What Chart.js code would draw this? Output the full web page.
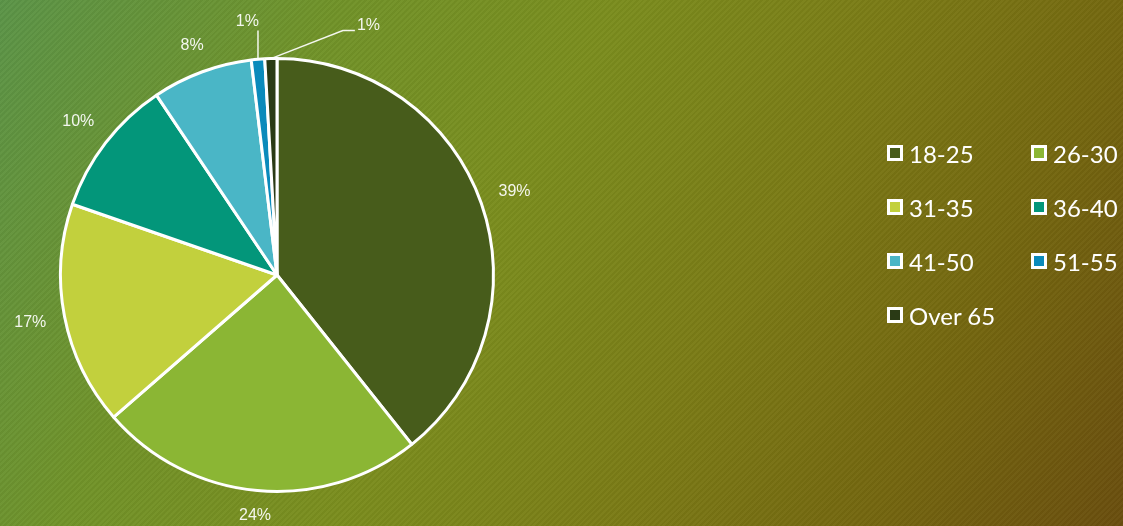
<!DOCTYPE html>
<html>
<head>
<meta charset="utf-8">
<script src="https://cdn.jsdelivr.net/npm/chart.js@4/dist/chart.umd.min.js"></script>
<style>
    html, body { margin: 0; padding: 0; }
    body {
        width: 1123px; height: 526px; overflow: hidden; position: relative;
        background:
            repeating-linear-gradient(135deg, rgba(255,255,255,0.025) 0 2px, rgba(0,0,0,0.03) 2px 4px),
            linear-gradient(118deg, #5b9448 0%, #719329 24%, #7b8d1e 44%, #7b7b16 64%, #74660f 82%, #6a4e0e 100%);
    }
    #wrap { position: absolute; left: 0; top: 0; width: 1123px; height: 526px; }
    #legend {
        position: absolute; left: 887px; top: 139px;
        display: grid; grid-template-columns: 144px 100px; grid-auto-rows: 54px;
        font-family: Lato, sans-serif; font-size: 24px; color: #fff;
    }
    #legend .item { display: flex; align-items: center; height: 28px; }
    #legend .box {
        width: 10px; height: 10px; border: 3px solid #fff; margin-right: 6px;
        box-sizing: content-box;
    }
</style>
</head>
<body>
<div id="wrap"><canvas id="pieChart"></canvas></div>
<div id="legend"></div>
<script>
// Faixa etária (pizza)
const faixas = ['18-25', '26-30', '31-35', '36-40', '41-50', '51-55', 'Over 65'];
const valores = [39.3, 24.3, 16.7, 10.3, 7.5, 1.0, 0.9];
const cores = ['#475c1b', '#8bb634', '#c2d03d', '#03967a', '#4ab6c6', '#0a8abb', '#2a3a15'];

// rótulos de porcentagem fora da pizza
const rotulosExternos = {
    id: 'rotulosExternos',
    afterDatasetsDraw(chart) {
        const ctx = chart.ctx;
        const meta = chart.getDatasetMeta(0);
        const total = valores.reduce((a, b) => a + b, 0);
        ctx.save();
        ctx.font = '16px "Liberation Sans", Arial, sans-serif';
        ctx.fillStyle = 'rgba(255,255,255,0.92)';
        ctx.strokeStyle = 'rgba(255,255,255,0.92)';
        ctx.lineWidth = 1.5;
        let pequenos = 0;
        meta.data.forEach((arc, i) => {
            const txt = Math.round(valores[i] / total * 100) + '%';
            const meio = (arc.startAngle + arc.endAngle) / 2;
            const r = arc.outerRadius;
            const cx = Math.cos(meio), sy = Math.sin(meio);
            if (valores[i] / total < 0.02) {
                const x0 = arc.x + cx * r;
                const y0 = arc.y + sy * r;
                const topo = arc.y - r - 28;
                ctx.beginPath();
                ctx.moveTo(x0, y0);
                if (pequenos === 0) {
                    ctx.lineTo(x0, topo);
                    ctx.stroke();
                    ctx.textAlign = 'right';
                    ctx.textBaseline = 'bottom';
                    ctx.fillText(txt, x0 + 1, topo - 1);
                } else {
                    ctx.lineTo(x0 + 72, topo);
                    ctx.lineTo(x0 + 84, topo);
                    ctx.stroke();
                    ctx.textAlign = 'left';
                    ctx.textBaseline = 'middle';
                    ctx.fillText(txt, x0 + 86, topo - 5);
                }
                pequenos++;
            } else {
                // caixa do texto afastada ~18px da borda
                const w = ctx.measureText(txt).width, h = 12;
                const d = r + 18 + Math.abs(cx) * w / 2 + Math.abs(sy) * h / 2;
                ctx.textAlign = 'center';
                ctx.textBaseline = 'middle';
                ctx.fillText(txt, arc.x + cx * d, arc.y + sy * d);
            }
        });
        ctx.restore();
    }
};

// legenda em HTML (grade de 2 colunas)
const legendaHtml = {
    id: 'legendaHtml',
    afterUpdate(chart) {
        const el = document.getElementById('legend');
        el.innerHTML = '';
        chart.data.labels.forEach((lab, i) => {
            const item = document.createElement('div');
            item.className = 'item';
            const box = document.createElement('span');
            box.className = 'box';
            box.style.background = chart.data.datasets[0].backgroundColor[i];
            item.appendChild(box);
            item.appendChild(document.createTextNode(lab));
            el.appendChild(item);
        });
    }
};

const pieCtx = document.getElementById('pieChart').getContext('2d');
new Chart(pieCtx, {
    type: 'pie',
    data: {
        labels: faixas,
        datasets: [{
            data: valores,
            backgroundColor: cores,
            borderColor: '#ffffff',
            borderWidth: 3
        }]
    },
    options: {
        responsive: true,
        maintainAspectRatio: false,
        animation: false,
        layout: { padding: { left: 59, right: 628, top: 57, bottom: 33 } },
        plugins: {
            legend: { display: false },
            tooltip: { enabled: false }
        }
    },
    plugins: [rotulosExternos, legendaHtml]
});
</script>
</body>
</html>
